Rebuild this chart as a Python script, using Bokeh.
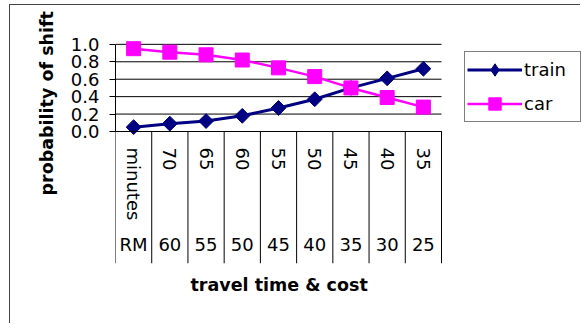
import numpy as np
from bokeh.plotting import figure
from bokeh.models import (Range1d, LinearAxis, FixedTicker, Legend, LegendItem,
                          NumeralTickFormatter, ColumnDataSource, Title)
from bokeh.embed import file_html
from bokeh.resources import INLINE

# ---- data ----
minutes_labels = ["minutes", "70", "65", "60", "55", "50", "45", "40", "35"]
cost_labels = ["RM", "60", "55", "50", "45", "40", "35", "30", "25"]
train = [0.05, 0.09, 0.12, 0.18, 0.27, 0.37, 0.50, 0.61, 0.72]
car = [0.95, 0.91, 0.88, 0.82, 0.73, 0.63, 0.50, 0.39, 0.28]
y_ticks = [0.0, 0.2, 0.4, 0.6, 0.8, 1.0]

FONT = "DejaVu Sans"
n = len(minutes_labels)
centers = [i + 0.5 for i in range(n)]
edges = list(range(n + 1))
Y_BOTTOM = -1.514
PLOT_W = 326      # pixel width of the category area
FRAME_W = 466     # frame also holds the legend on its right

p = figure(width=571, height=319,
           x_range=Range1d(0, n * FRAME_W / PLOT_W), y_range=Range1d(Y_BOTTOM, 1.044),
           output_backend="svg", toolbar_location=None,
           x_axis_type=None, y_axis_type=None,
           min_border_left=105, min_border_right=0, min_border_top=35, min_border_bottom=61)
p.outline_line_color = None
p.background_fill_color = "white"
p.border_fill_color = "white"
p.styles = {"margin-left": "9px", "margin-top": "4px",
            "border-top": "1px solid #444", "border-left": "1px solid #444"}

# horizontal gridlines across the category area
p.segment(x0=[0] * len(y_ticks), y0=y_ticks, x1=[n] * len(y_ticks), y1=y_ticks,
          line_color="black", line_width=1)

# value axis
yaxis = LinearAxis(ticker=FixedTicker(ticks=y_ticks), formatter=NumeralTickFormatter(format="0.0"),
                   bounds=(0, 1.0),
                   major_tick_out=6, major_tick_in=0, minor_tick_line_color=None,
                   major_label_standoff=10,
                   axis_line_color="black", major_tick_line_color="black",
                   major_label_text_font=FONT, major_label_text_font_size="18px",
                   major_label_text_color="black")
p.add_layout(yaxis, "left")
p.add_layout(Title(text="probability of shift", align="left", offset=68, standoff=22,
                   text_font=FONT, text_font_size="17.5px", text_font_style="bold",
                   text_color="black"), "left")

# category dividers (from the category edges)
p.segment(x0=edges, y0=[0] * len(edges), x1=edges, y1=[Y_BOTTOM] * len(edges),
          line_color="black", line_width=1)

# rotated minute labels
min_axis = LinearAxis(fixed_location=0, ticker=FixedTicker(ticks=centers), bounds=(0, n),
                      major_label_overrides={c: lab for c, lab in zip(centers, minutes_labels)},
                      major_label_orientation="vertical",
                      major_tick_out=0, major_tick_in=0, major_tick_line_color=None,
                      minor_tick_line_color=None, axis_line_color="black",
                      major_label_standoff=16,
                      major_label_text_font=FONT, major_label_text_font_size="18px",
                      major_label_text_color="black")
p.add_layout(min_axis, "below")

# cost labels
cost_axis = LinearAxis(fixed_location=0, ticker=FixedTicker(ticks=centers),
                       major_label_overrides={c: lab for c, lab in zip(centers, cost_labels)},
                       major_label_orientation="horizontal",
                       major_tick_out=0, major_tick_in=0, major_tick_line_color=None,
                       minor_tick_line_color=None, axis_line_color=None,
                       major_label_standoff=102,
                       major_label_text_font=FONT, major_label_text_font_size="18px",
                       major_label_text_color="black")
p.add_layout(cost_axis, "below")

# axis title
p.add_layout(Title(text="travel time & cost", align="left", offset=75, standoff=22,
                   vertical_align="top",
                   text_font=FONT, text_font_size="17.5px", text_font_style="bold",
                   text_color="black"), "below")

src = ColumnDataSource(dict(x=centers, train=train, car=car))
train_line = p.line("x", "train", source=src, line_color="#000080", line_width=3)
train_pts = p.scatter("x", "train", source=src, marker="square", angle=np.pi / 4, size=10.5,
                      fill_color="#000080", line_color="#000080")
# diamond symbol used for the legend entry (the legend draws markers unrotated)
train_key = p.scatter("x", "train", source=src, marker="diamond", size=15,
                      fill_color="#000080", line_color="#000080", visible=False)
car_line = p.line("x", "car", source=src, line_color="#FF00FF", line_width=2.5)
car_pts = p.scatter("x", "car", source=src, marker="square", size=14,
                    fill_color="#FF00FF", line_color="#FF00FF")

legend = Legend(items=[LegendItem(label="train", renderers=[train_line, train_key]),
                       LegendItem(label="car", renderers=[car_line, car_pts])],
                location=(349, 141), glyph_width=55, glyph_height=31, label_height=31,
                label_width=54, padding=2, spacing=3, label_standoff=2, margin=0,
                border_line_color="black", border_line_width=1,
                label_text_font=FONT, label_text_font_size="18px", label_text_color="black",
                background_fill_color="white", background_fill_alpha=1.0)
p.add_layout(legend)

open("out.html", "w").write(file_html(p, INLINE))
